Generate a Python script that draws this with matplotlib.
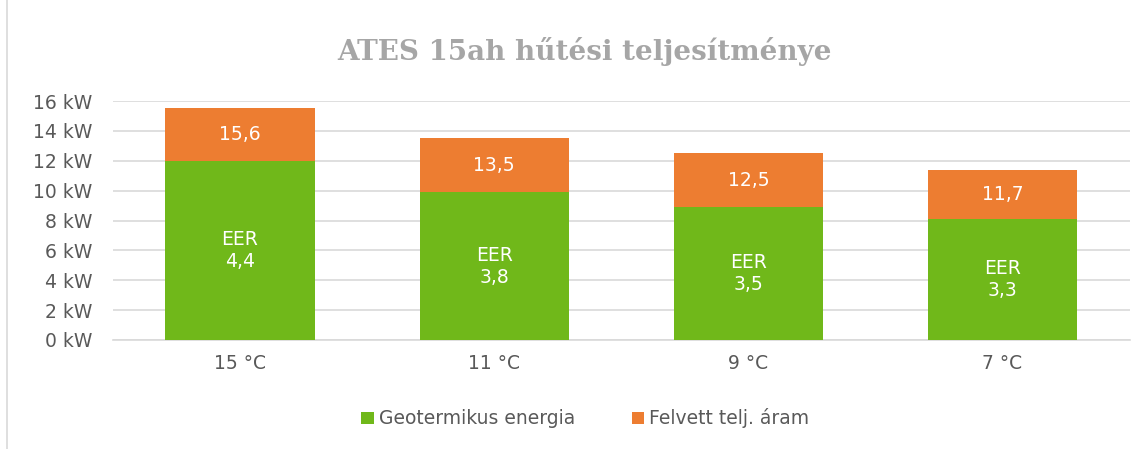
import numpy as np
import matplotlib.pyplot as plt
from matplotlib.patches import Rectangle

plt.rcParams['font.family'] = ['DejaVu Sans']

categories = ["15 °C", "11 °C", "9 °C", "7 °C"]
geo = np.array([12.0, 9.9, 8.9, 8.1])
aram = np.array([3.5, 3.6, 3.6, 3.3])
total_labels = ["15,6", "13,5", "12,5", "11,7"]
eer_labels = ["4,4", "3,8", "3,5", "3,3"]

green = "#70B81A"
orange = "#ED7D31"
txt = "#595959"
fs = 13.5

fig = plt.figure(figsize=(11.48, 4.49), dpi=100)
fig.patches.append(Rectangle((0.006, -0.01), 1.2, 1.2, transform=fig.transFigure,
                             fill=False, edgecolor="#D9D9D9", lw=1.2))
ax = fig.add_axes([0.0984, 0.2428, 0.8856, 0.5322])

x = np.arange(len(categories))
w = 0.587
ax.bar(x, geo, w, color=green, label="Geotermikus energia", zorder=3)
ax.bar(x, aram, w, bottom=geo, color=orange, label="Felvett telj. áram", zorder=3)

for i in range(len(x)):
    ax.text(x[i], geo[i] / 2, "EER\n" + eer_labels[i], ha="center", va="center",
            color="white", fontsize=fs, linespacing=1.2, zorder=4)
    ax.text(x[i], geo[i] + aram[i] / 2, total_labels[i], ha="center", va="center",
            color="white", fontsize=fs, zorder=4)

ax.set_xlim(-0.5, 3.5)
ax.set_ylim(0, 16)
ax.set_yticks(np.arange(0, 17, 2))
ax.set_yticklabels([f"{v} kW" for v in range(0, 17, 2)])
ax.set_xticks(x)
ax.set_xticklabels(categories)
ax.tick_params(length=0, labelsize=fs, colors=txt)
ax.tick_params(axis="y", pad=15)
ax.tick_params(axis="x", pad=10)
ax.grid(axis="y", color="#D9D9D9", lw=1.2, zorder=0)
for s in ["top", "right", "left"]:
    ax.spines[s].set_visible(False)
ax.spines["bottom"].set_color("#D9D9D9")
ax.spines["bottom"].set_linewidth(1.2)

fig.text(0.509, 0.885, "ATES 15ah hűtési teljesítménye", ha="center", va="center",
         fontsize=20, fontweight="bold", family="DejaVu Serif", color="#A6A6A6")

leg = fig.legend(loc="center", bbox_to_anchor=(0.51, 0.068), ncol=2, frameon=False,
                 fontsize=fs, handlelength=0.65, handleheight=0.65, handletextpad=0.3,
                 columnspacing=3.0)
for t in leg.get_texts():
    t.set_color(txt)

fig.savefig("out.png", dpi=100)
